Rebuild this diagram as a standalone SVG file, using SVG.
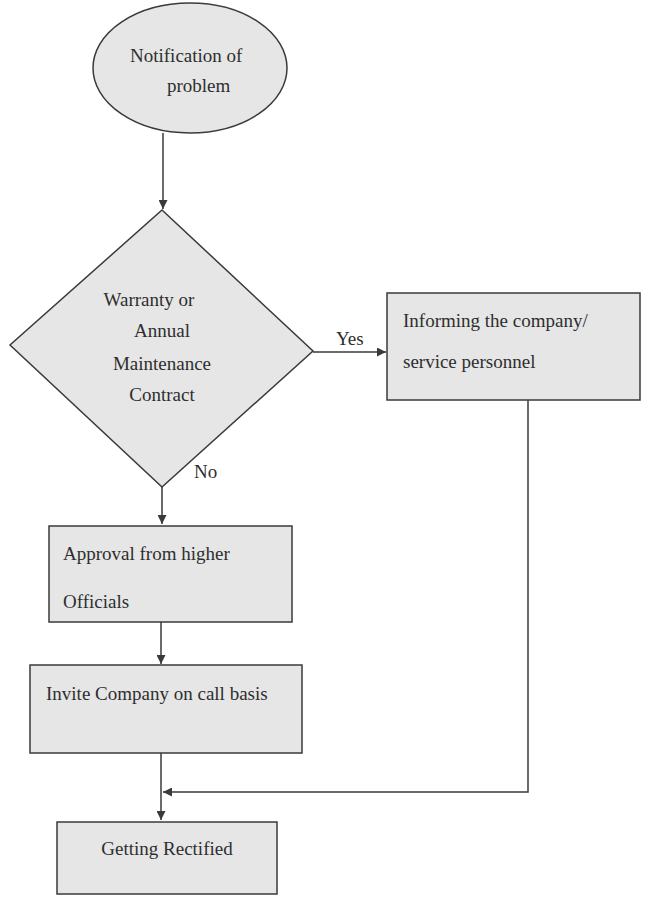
<svg xmlns="http://www.w3.org/2000/svg" width="650" height="898" viewBox="0 0 650 898">
<style>
.shape{fill:#e6e6e6;stroke:#3a3a3a;stroke-width:1.5}
.t{font-family:"Liberation Serif","Times New Roman",serif;font-size:19px;fill:#2e2e2e}
.c{text-anchor:middle}
.line{fill:none;stroke:#3a3a3a;stroke-width:1.5}
</style>
<defs>
<marker id="arr" viewBox="0 0 10 10" refX="10" refY="5" markerWidth="9" markerHeight="9" markerUnits="userSpaceOnUse" orient="auto">
<path d="M0,0 L10,5 L0,10 z" fill="#3a3a3a"/>
</marker>
</defs>
<rect width="650" height="898" fill="#ffffff"/>
<g id="connectors">
<line class="line" x1="163" y1="133" x2="163" y2="209" marker-end="url(#arr)"/>
<line class="line" x1="313" y1="352" x2="386" y2="352" marker-end="url(#arr)"/>
<line class="line" x1="162" y1="487" x2="162" y2="524" marker-end="url(#arr)"/>
<line class="line" x1="161" y1="622" x2="161" y2="664" marker-end="url(#arr)"/>
<line class="line" x1="161" y1="753" x2="161" y2="820" marker-end="url(#arr)"/>
<polyline class="line" points="528,400 528,792 163,792" marker-end="url(#arr)"/>
<text class="t" x="336" y="345">Yes</text>
<text class="t" x="194" y="478">No</text>
</g>
<g id="start">
<ellipse class="shape" cx="190" cy="68" rx="97" ry="65"/>
<text class="t" x="130" y="62">Notification of</text>
<text class="t" x="167" y="92">problem</text>
</g>
<g id="decision">
<polygon class="shape" points="162,210 313,351 162,487 10,345"/>
<text class="t c" x="149" y="306">Warranty or</text>
<text class="t c" x="162" y="337">Annual</text>
<text class="t c" x="162" y="370">Maintenance</text>
<text class="t c" x="162" y="401">Contract</text>
</g>
<g id="inform">
<rect class="shape" x="387" y="293" width="253" height="107"/>
<text class="t" x="403" y="327">Informing the company/</text>
<text class="t" x="403" y="368">service personnel</text>
</g>
<g id="approval">
<rect class="shape" x="49" y="526" width="243" height="96"/>
<text class="t" x="63" y="560">Approval from higher</text>
<text class="t" x="63" y="608">Officials</text>
</g>
<g id="invite">
<rect class="shape" x="30" y="665" width="272" height="88"/>
<text class="t" x="46" y="700">Invite Company on call basis</text>
</g>
<g id="rectified">
<rect class="shape" x="57" y="822" width="220" height="72"/>
<text class="t c" x="167" y="855">Getting Rectified</text>
</g>
</svg>
